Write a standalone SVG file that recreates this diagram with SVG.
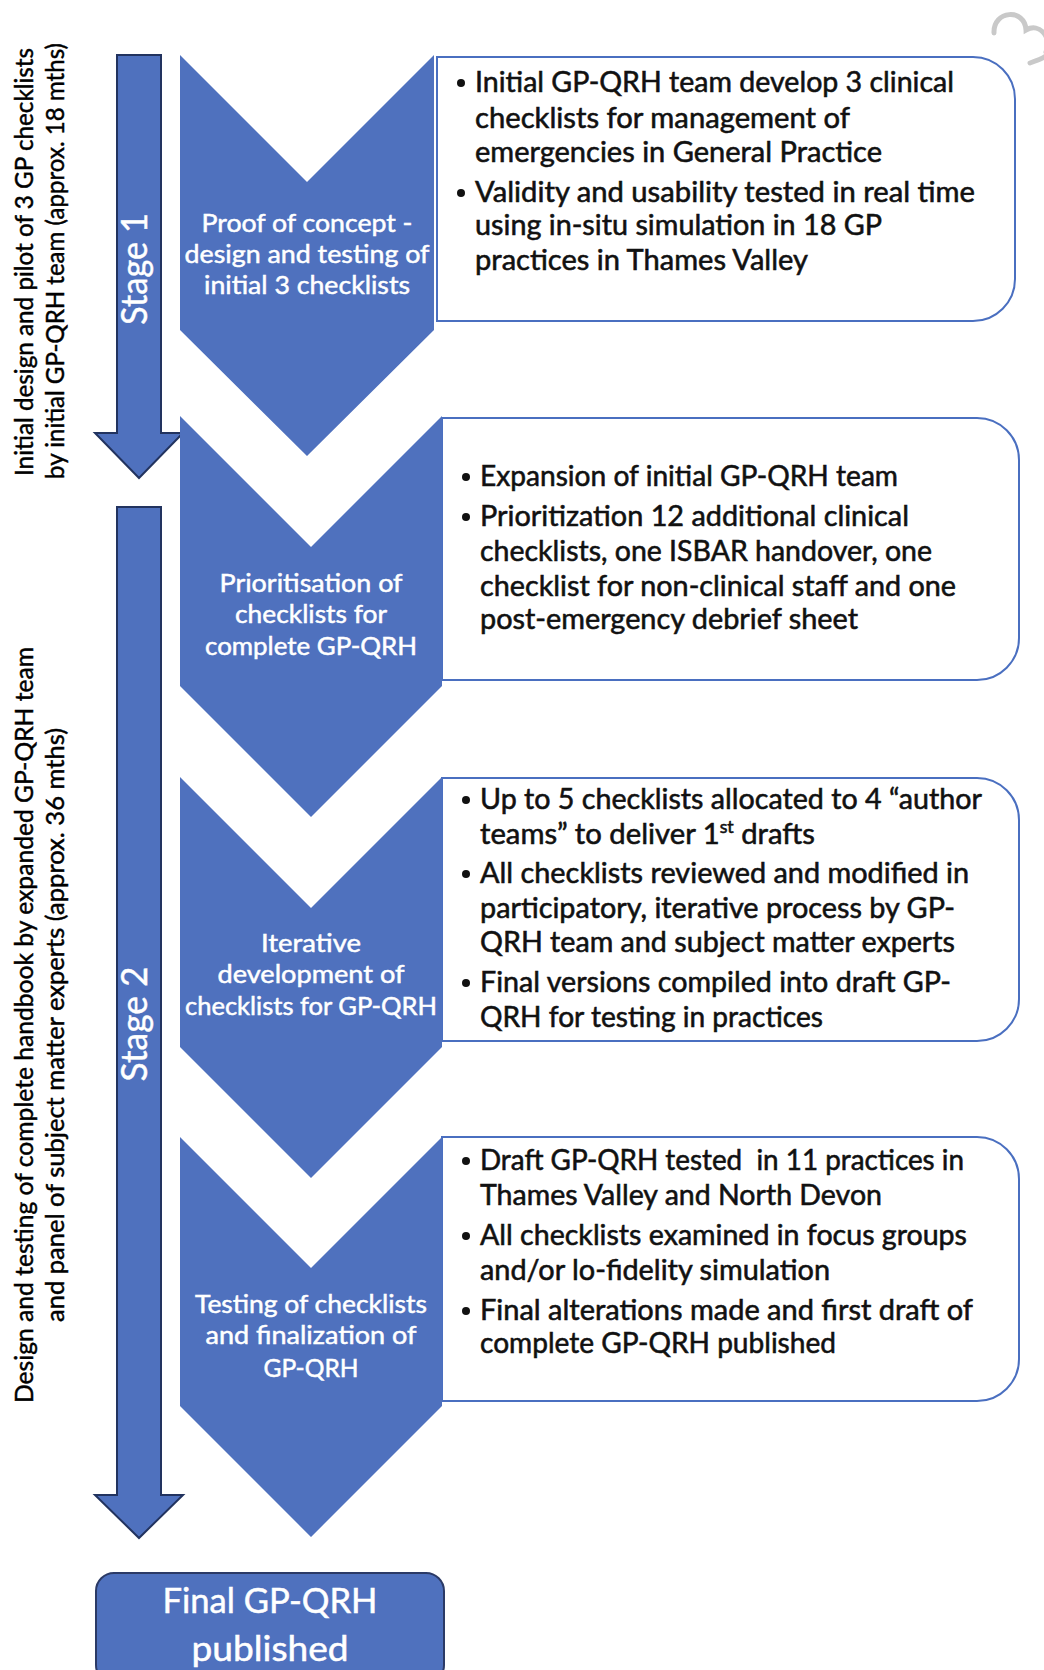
<svg xmlns="http://www.w3.org/2000/svg" width="1044" height="1670" viewBox="0 0 1044 1670">
<style>
.blue{fill:#4F71BE;}
.arrow{fill:#4F71BE;stroke:#22335F;stroke-width:2;}
.box{fill:#FFFFFF;stroke:#4A6FC0;stroke-width:2;}
.bt{font-family:Lato,"Open Sans","Liberation Sans",sans-serif;font-size:28px;fill:#111111;stroke:#111111;stroke-width:0.55px;}
.ct{font-family:Lato,"Open Sans","Liberation Sans",sans-serif;font-size:25.5px;fill:#FFFFFF;stroke:#FFFFFF;stroke-width:0.5px;text-anchor:middle;}
.st{font-family:Lato,"Open Sans","Liberation Sans",sans-serif;font-size:36px;fill:#FFFFFF;stroke:#FFFFFF;stroke-width:0.4px;text-anchor:middle;}
.side{font-family:Lato,"Open Sans","Liberation Sans",sans-serif;font-size:25px;fill:#000000;stroke:#000000;stroke-width:0.45px;text-anchor:middle;}
.ft{font-family:Lato,"Open Sans","Liberation Sans",sans-serif;font-size:35px;fill:#FFFFFF;stroke:#FFFFFF;stroke-width:0.5px;text-anchor:middle;}
.dot{fill:#111111;}
</style>
<rect x="0" y="0" width="1044" height="1670" fill="#FFFFFF"/>

<path d="M994 33 C993 10,1025 8,1026 30 C1040 22,1052 38,1046 52 M1030 63 C1036 61,1042 59,1046 56" fill="none" stroke="#C9C9C9" stroke-width="5" stroke-linecap="round"/>

<g id="side-labels">
<text class="side" transform="translate(33,262) rotate(-90)" textLength="428" lengthAdjust="spacingAndGlyphs">Initial design and pilot of 3 GP checklists</text>
<text class="side" transform="translate(64,261) rotate(-90)" textLength="436" lengthAdjust="spacingAndGlyphs">by initial GP-QRH team (approx. 18 mths)</text>
<text class="side" transform="translate(33,1025) rotate(-90)" textLength="756" lengthAdjust="spacingAndGlyphs">Design and testing of complete handbook by expanded GP-QRH team</text>
<text class="side" transform="translate(64,1025) rotate(-90)" textLength="594" lengthAdjust="spacingAndGlyphs">and panel of subject matter experts (approx. 36 mths)</text>
</g>

<g id="connectors">
<g id="stage1-arrow">
<path class="arrow" d="M117 55 H161 V433 H183 L139 478 L95 433 H117 Z"/>
<text class="st" transform="translate(147,269) rotate(-90)" textLength="112" lengthAdjust="spacingAndGlyphs">Stage 1</text>
</g>
<g id="stage2-arrow">
<path class="arrow" d="M117 507 H161 V1495 H183 L139 1538 L95 1495 H117 Z"/>
<text class="st" transform="translate(147,1024) rotate(-90)" textLength="115" lengthAdjust="spacingAndGlyphs">Stage 2</text>
</g>
</g>

<g id="step1">
<path class="box" d="M437 57 H973 A42 42 0 0 1 1015 99 V279 A42 42 0 0 1 973 321 H437 Z"/>
<polygon class="blue" points="180,55 307,182 434,55 434,330 307,456 180,330"/>
<text class="ct" x="307" y="232" textLength="211" lengthAdjust="spacingAndGlyphs">Proof of concept -</text>
<text class="ct" x="307" y="263" textLength="245" lengthAdjust="spacingAndGlyphs">design and testing of</text>
<text class="ct" x="307" y="294" textLength="206" lengthAdjust="spacingAndGlyphs">initial 3 checklists</text>
<circle class="dot" cx="461" cy="83" r="4"/>
<circle class="dot" cx="461" cy="193" r="4"/>
<text class="bt" x="475" y="92" textLength="479" lengthAdjust="spacingAndGlyphs">Initial GP-QRH team develop 3 clinical</text>
<text class="bt" x="475" y="128" textLength="375" lengthAdjust="spacingAndGlyphs">checklists for management of</text>
<text class="bt" x="475" y="162" textLength="407" lengthAdjust="spacingAndGlyphs">emergencies in General Practice</text>
<text class="bt" x="475" y="202" textLength="500" lengthAdjust="spacingAndGlyphs">Validity and usability tested in real time</text>
<text class="bt" x="475" y="235" textLength="407" lengthAdjust="spacingAndGlyphs">using in-situ simulation in 18 GP</text>
<text class="bt" x="475" y="270" textLength="333" lengthAdjust="spacingAndGlyphs">practices in Thames Valley</text>
</g>

<g id="step2">
<path class="box" d="M442 418 H977 A42 42 0 0 1 1019 460 V638 A42 42 0 0 1 977 680 H442 Z"/>
<polygon class="blue" points="180,416 311,547 442,416 442,686 311,817 180,686"/>
<text class="ct" x="311" y="592" textLength="183" lengthAdjust="spacingAndGlyphs">Prioritisation of</text>
<text class="ct" x="311" y="623" textLength="152" lengthAdjust="spacingAndGlyphs">checklists for</text>
<text class="ct" x="311" y="655" textLength="212" lengthAdjust="spacingAndGlyphs">complete GP-QRH</text>
<circle class="dot" cx="466" cy="477" r="4"/>
<circle class="dot" cx="466" cy="517" r="4"/>
<text class="bt" x="480" y="486" textLength="418" lengthAdjust="spacingAndGlyphs">Expansion of initial GP-QRH team</text>
<text class="bt" x="480" y="526" textLength="429" lengthAdjust="spacingAndGlyphs">Prioritization 12 additional clinical</text>
<text class="bt" x="480" y="561" textLength="452" lengthAdjust="spacingAndGlyphs">checklists, one ISBAR handover, one</text>
<text class="bt" x="480" y="596" textLength="476" lengthAdjust="spacingAndGlyphs">checklist for non-clinical staff and one</text>
<text class="bt" x="480" y="629" textLength="378" lengthAdjust="spacingAndGlyphs">post-emergency debrief sheet</text>
</g>

<g id="step3">
<path class="box" d="M442 778 H977 A42 42 0 0 1 1019 820 V999 A42 42 0 0 1 977 1041 H442 Z"/>
<polygon class="blue" points="180,777 311,908 442,777 442,1047 311,1178 180,1047"/>
<text class="ct" x="311" y="952" textLength="100" lengthAdjust="spacingAndGlyphs">Iterative</text>
<text class="ct" x="311" y="983" textLength="187" lengthAdjust="spacingAndGlyphs">development of</text>
<text class="ct" x="311" y="1015" textLength="252" lengthAdjust="spacingAndGlyphs">checklists for GP-QRH</text>
<circle class="dot" cx="466" cy="800" r="4"/>
<circle class="dot" cx="466" cy="874" r="4"/>
<circle class="dot" cx="466" cy="983" r="4"/>
<text class="bt" x="480" y="809" textLength="502" lengthAdjust="spacingAndGlyphs">Up to 5 checklists allocated to 4 “author</text>
<text class="bt" x="480" y="844" textLength="335" lengthAdjust="spacingAndGlyphs">teams” to deliver 1<tspan font-size="17" dy="-11">st</tspan><tspan dy="11"> drafts</tspan></text>
<text class="bt" x="480" y="883" textLength="489" lengthAdjust="spacingAndGlyphs">All checklists reviewed and modified in</text>
<text class="bt" x="480" y="918" textLength="475" lengthAdjust="spacingAndGlyphs">participatory, iterative process by GP-</text>
<text class="bt" x="480" y="952" textLength="475" lengthAdjust="spacingAndGlyphs">QRH team and subject matter experts</text>
<text class="bt" x="480" y="992" textLength="471" lengthAdjust="spacingAndGlyphs">Final versions compiled into draft GP-</text>
<text class="bt" x="480" y="1027" textLength="343" lengthAdjust="spacingAndGlyphs">QRH for testing in practices</text>
</g>

<g id="step4">
<path class="box" d="M442 1137 H977 A42 42 0 0 1 1019 1179 V1359 A42 42 0 0 1 977 1401 H442 Z"/>
<polygon class="blue" points="180,1137 311,1268 442,1137 442,1406 311,1537 180,1406"/>
<text class="ct" x="311" y="1313" textLength="232" lengthAdjust="spacingAndGlyphs">Testing of checklists</text>
<text class="ct" x="311" y="1344" textLength="211" lengthAdjust="spacingAndGlyphs">and finalization of</text>
<text class="ct" x="311" y="1377" textLength="95" lengthAdjust="spacingAndGlyphs">GP-QRH</text>
<circle class="dot" cx="466" cy="1161" r="4"/>
<circle class="dot" cx="466" cy="1236" r="4"/>
<circle class="dot" cx="466" cy="1311" r="4"/>
<text class="bt" x="480" y="1170" textLength="484" lengthAdjust="spacingAndGlyphs" xml:space="preserve">Draft GP-QRH tested  in 11 practices in</text>
<text class="bt" x="480" y="1205" textLength="402" lengthAdjust="spacingAndGlyphs">Thames Valley and North Devon</text>
<text class="bt" x="480" y="1245" textLength="487" lengthAdjust="spacingAndGlyphs">All checklists examined in focus groups</text>
<text class="bt" x="480" y="1280" textLength="350" lengthAdjust="spacingAndGlyphs">and/or lo-fidelity simulation</text>
<text class="bt" x="480" y="1320" textLength="493" lengthAdjust="spacingAndGlyphs">Final alterations made and first draft of</text>
<text class="bt" x="480" y="1353" textLength="356" lengthAdjust="spacingAndGlyphs">complete GP-QRH published</text>
</g>

<g id="final">
<rect x="96" y="1573" width="348" height="110" rx="18" ry="18" fill="#4F71BE" stroke="#2B3A66" stroke-width="2"/>
<text class="ft" x="270" y="1613" textLength="215" lengthAdjust="spacingAndGlyphs">Final GP-QRH</text>
<text class="ft" x="270" y="1661" textLength="157" lengthAdjust="spacingAndGlyphs">published</text>
</g>
</svg>
